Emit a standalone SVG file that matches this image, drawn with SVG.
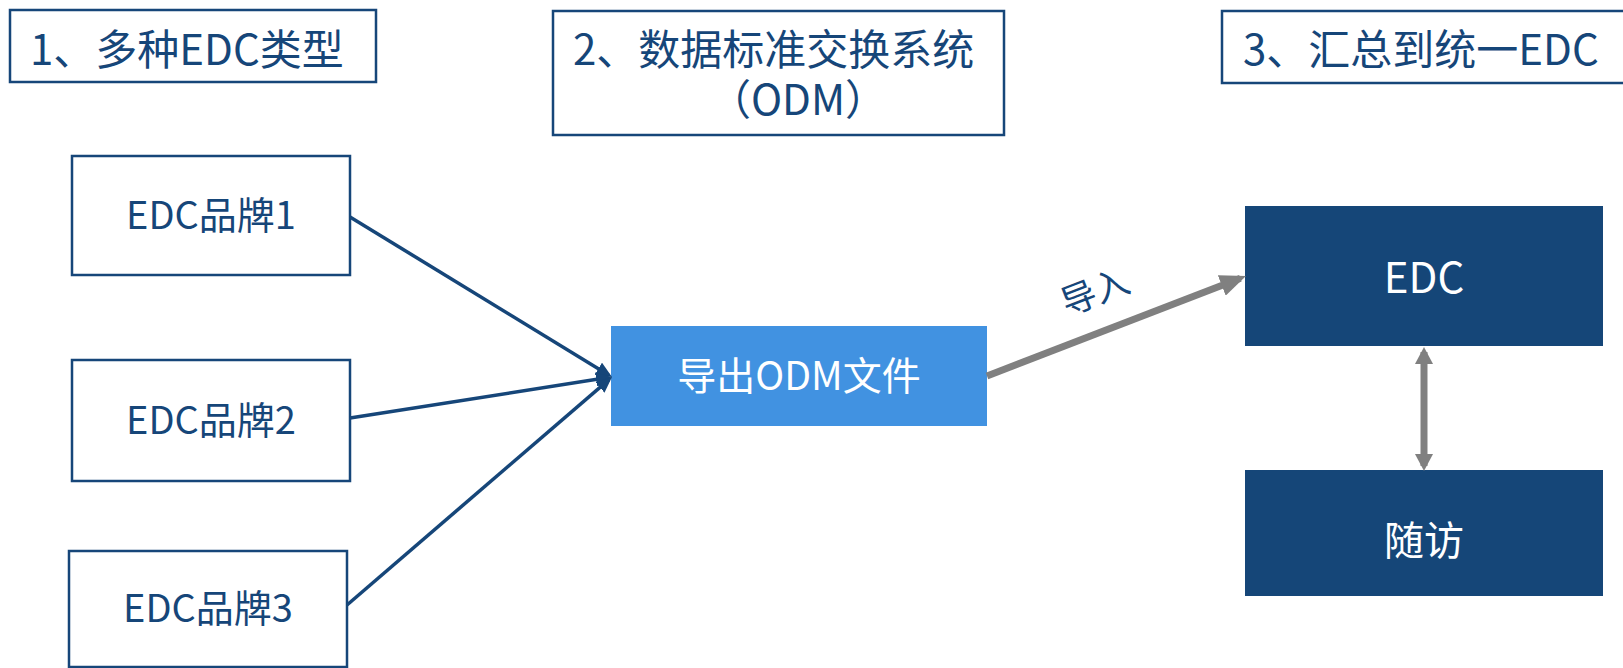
<svg xmlns="http://www.w3.org/2000/svg" width="1623" height="668" viewBox="0 0 1623 668">
<style>
  text { font-family: "Noto Sans CJK SC", "Microsoft YaHei", sans-serif; }
  .title { fill: #164679; font-size: 42px; }
  .tbox { fill: #ffffff; stroke: #164679; stroke-width: 2.5; }
  .brand { fill: #ffffff; stroke: #164679; stroke-width: 2.5; }
  .brandtxt { fill: #164679; font-size: 38px; text-anchor: middle; }
  .dark { fill: #154678; }
  .whitetxt { fill: #ffffff; text-anchor: middle; }
  .blue-line { stroke: #164679; stroke-width: 3.5; fill: none; }
  .gray-line { stroke: #808080; stroke-width: 7; fill: none; }
</style>
<defs>
  <marker id="ahBlue" viewBox="0 0 16 14" refX="12" refY="7" markerWidth="16" markerHeight="14" markerUnits="userSpaceOnUse" orient="auto">
    <path d="M0,0 L16,7 L0,14 z" fill="#164679"/>
  </marker>
  <marker id="ahGray" viewBox="0 0 26 22" refX="20" refY="11" markerWidth="26" markerHeight="22" markerUnits="userSpaceOnUse" orient="auto">
    <path d="M0,0 L26,11 L0,22 z" fill="#808080"/>
  </marker>
  <marker id="ahGray2" viewBox="0 0 17 18" refX="12" refY="9" markerWidth="17" markerHeight="18" markerUnits="userSpaceOnUse" orient="auto-start-reverse">
    <path d="M0,0 L17,9 L0,18 z" fill="#808080"/>
  </marker>
</defs>

<g id="title1">
  <rect class="tbox" x="10" y="10" width="366" height="72"/>
  <text class="title" x="30" y="65">1、多种EDC类型</text>
</g>
<g id="title2">
  <rect class="tbox" x="553" y="11" width="451" height="124"/>
  <text class="title"><tspan x="573" y="65">2、数据标准交换系统</tspan><tspan x="798" y="115" text-anchor="middle">（ODM）</tspan></text>
</g>
<g id="title3">
  <rect class="tbox" x="1222" y="11" width="420" height="72"/>
  <text class="title" x="1243" y="65">3、汇总到统一EDC</text>
</g>

<g id="brand1">
  <rect class="brand" x="72" y="156" width="278" height="119"/>
  <text class="brandtxt" x="211" y="229">EDC品牌1</text>
</g>
<g id="brand2">
  <rect class="brand" x="72" y="360" width="278" height="121"/>
  <text class="brandtxt" x="211" y="434">EDC品牌2</text>
</g>
<g id="brand3">
  <rect class="brand" x="69" y="551" width="278" height="116"/>
  <text class="brandtxt" x="208" y="622">EDC品牌3</text>
</g>

<g id="odm">
  <rect x="611" y="326" width="376" height="100" fill="#4192E1"/>
  <text class="whitetxt" x="799" y="390" font-size="39">导出ODM文件</text>
</g>

<g id="edc">
  <rect class="dark" x="1245" y="206" width="358" height="140"/>
  <text class="whitetxt" x="1424" y="293" font-size="42">EDC</text>
</g>
<g id="followup">
  <rect class="dark" x="1245" y="470" width="358" height="126"/>
  <text class="whitetxt" x="1424" y="555" font-size="40">随访</text>
</g>

<g id="connectors">
  <line class="blue-line" x1="350" y1="217" x2="608.6" y2="374.9" marker-end="url(#ahBlue)"/>
  <line class="blue-line" x1="350" y1="418" x2="608.0" y2="377.6" marker-end="url(#ahBlue)"/>
  <line class="blue-line" x1="347" y1="605" x2="609.0" y2="379.6" marker-end="url(#ahBlue)"/>
  <line class="gray-line" x1="987" y1="376" x2="1240.4" y2="278.2" marker-end="url(#ahGray)"/>
  <line class="gray-line" x1="1424" y1="352" x2="1424" y2="466" marker-start="url(#ahGray2)" marker-end="url(#ahGray2)"/>
  <text x="0" y="0" font-size="35" fill="#164679" text-anchor="middle" dominant-baseline="central" transform="translate(1094,289) rotate(-21)">导入</text>
</g>
</svg>
